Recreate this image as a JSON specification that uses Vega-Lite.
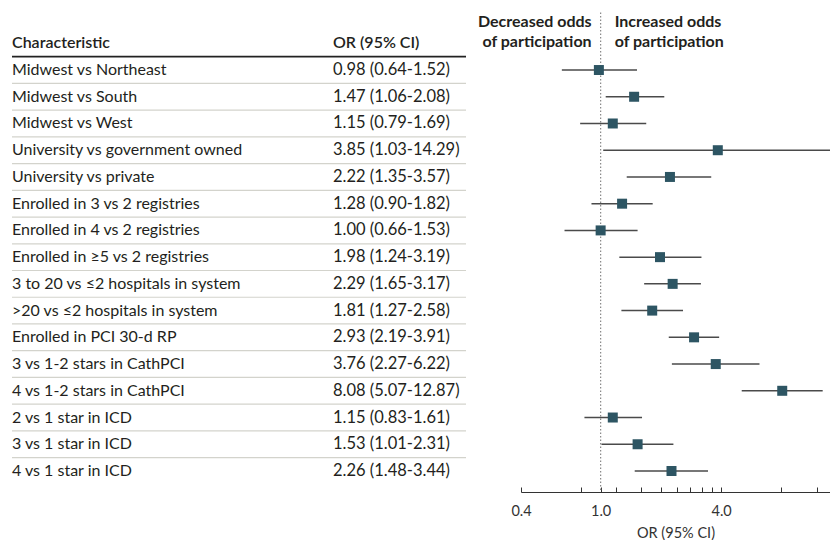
{
  "$schema": "https://vega.github.io/schema/vega-lite/v6.json",
  "width": 830,
  "height": 492,
  "autosize": {"type": "none"},
  "padding": {"left": 0, "top": 0, "right": 0, "bottom": 48},
  "background": "white",
  "config": {"view": {"stroke": null}, "font": "Lato", "text": {"font": "Lato"}},
  "datasets": {
    "rows": [
      {"row": 1, "label": "Midwest vs Northeast", "or": 0.98, "lo": 0.64, "hi": 1.52, "ci": "0.98 (0.64-1.52)"},
      {"row": 2, "label": "Midwest vs South", "or": 1.47, "lo": 1.06, "hi": 2.08, "ci": "1.47 (1.06-2.08)"},
      {"row": 3, "label": "Midwest vs West", "or": 1.15, "lo": 0.79, "hi": 1.69, "ci": "1.15 (0.79-1.69)"},
      {"row": 4, "label": "University vs government owned", "or": 3.85, "lo": 1.03, "hi": 14.29, "ci": "3.85 (1.03-14.29)"},
      {"row": 5, "label": "University vs private", "or": 2.22, "lo": 1.35, "hi": 3.57, "ci": "2.22 (1.35-3.57)"},
      {"row": 6, "label": "Enrolled in 3 vs 2 registries", "or": 1.28, "lo": 0.90, "hi": 1.82, "ci": "1.28 (0.90-1.82)"},
      {"row": 7, "label": "Enrolled in 4 vs 2 registries", "or": 1.00, "lo": 0.66, "hi": 1.53, "ci": "1.00 (0.66-1.53)"},
      {"row": 8, "label": "Enrolled in ≥5 vs 2 registries", "or": 1.98, "lo": 1.24, "hi": 3.19, "ci": "1.98 (1.24-3.19)"},
      {"row": 9, "label": "3 to 20 vs ≤2 hospitals in system", "or": 2.29, "lo": 1.65, "hi": 3.17, "ci": "2.29 (1.65-3.17)"},
      {"row": 10, "label": ">20 vs ≤2 hospitals in system", "or": 1.81, "lo": 1.27, "hi": 2.58, "ci": "1.81 (1.27-2.58)"},
      {"row": 11, "label": "Enrolled in PCI 30-d RP", "or": 2.93, "lo": 2.19, "hi": 3.91, "ci": "2.93 (2.19-3.91)"},
      {"row": 12, "label": "3 vs 1-2 stars in CathPCI", "or": 3.76, "lo": 2.27, "hi": 6.22, "ci": "3.76 (2.27-6.22)"},
      {"row": 13, "label": "4 vs 1-2 stars in CathPCI", "or": 8.08, "lo": 5.07, "hi": 12.87, "ci": "8.08 (5.07-12.87)"},
      {"row": 14, "label": "2 vs 1 star in ICD", "or": 1.15, "lo": 0.83, "hi": 1.61, "ci": "1.15 (0.83-1.61)"},
      {"row": 15, "label": "3 vs 1 star in ICD", "or": 1.53, "lo": 1.01, "hi": 2.31, "ci": "1.53 (1.01-2.31)"},
      {"row": 16, "label": "4 vs 1 star in ICD", "or": 2.26, "lo": 1.48, "hi": 3.44, "ci": "2.26 (1.48-3.44)"}
    ]
  },
  "data": {"name": "rows"},
  "encoding": {
    "y": {
      "field": "row",
      "type": "ordinal",
      "scale": {
        "type": "band",
        "domain": [-1, 0, 1, 2, 3, 4, 5, 6, 7, 8, 9, 10, 11, 12, 13, 14, 15, 16],
        "paddingInner": 0,
        "paddingOuter": 0.203,
        "align": 0.295
      },
      "axis": null
    }
  },
  "layer": [
    {
      "transform": [{"filter": "datum.row < 16"}],
      "mark": {"type": "rule", "color": "#d3d3cc", "strokeWidth": 1.2},
      "encoding": {
        "x": {"value": 12},
        "x2": {"value": 466},
        "y": {"field": "row", "type": "ordinal", "bandPosition": 1}
      }
    },
    {
      "data": {"values": [{}]},
      "mark": {"type": "rule", "color": "#222222", "strokeWidth": 1.6},
      "encoding": {
        "x": {"value": 12},
        "x2": {"value": 466},
        "y": {"datum": 0, "type": "ordinal", "bandPosition": 1}
      }
    },
    {
      "mark": {"type": "text", "align": "left", "baseline": "middle", "fontSize": 16, "color": "#231f20"},
      "encoding": {
        "x": {"value": 12},
        "text": {"field": "label"}
      }
    },
    {
      "mark": {"type": "text", "align": "left", "baseline": "middle", "fontSize": 16.5, "color": "#231f20"},
      "encoding": {
        "x": {"value": 333},
        "text": {"field": "ci"}
      }
    },
    {
      "data": {"values": [{}]},
      "mark": {"type": "text", "align": "left", "baseline": "middle", "fontSize": 16, "fontWeight": 600, "color": "#231f20", "text": "Characteristic"},
      "encoding": {
        "x": {"value": 12},
        "y": {"datum": 0, "type": "ordinal"}
      }
    },
    {
      "data": {"values": [{}]},
      "mark": {"type": "text", "align": "left", "baseline": "middle", "fontSize": 16, "fontWeight": 600, "color": "#231f20", "text": "OR (95% CI)"},
      "encoding": {
        "x": {"value": 333},
        "y": {"datum": 0, "type": "ordinal"}
      }
    },
    {
      "data": {"values": [{}]},
      "mark": {"type": "rule", "color": "#888888", "strokeWidth": 1.2, "strokeDash": [1.5, 2]},
      "encoding": {
        "x": {"datum": 1, "type": "quantitative"},
        "y": {"datum": -1, "type": "ordinal", "bandPosition": 0.35},
        "y2": {"value": "height"}
      }
    },
    {
      "data": {"values": [{}]},
      "mark": {"type": "text", "align": "right", "baseline": "middle", "fontSize": 16, "fontWeight": "bold", "color": "#231f20", "lineHeight": 20, "dx": -9, "text": ["Decreased odds", "of participation"]},
      "encoding": {
        "x": {"datum": 1, "type": "quantitative"},
        "y": {"datum": -1, "type": "ordinal", "bandPosition": 0.69}
      }
    },
    {
      "data": {"values": [{}]},
      "mark": {"type": "text", "align": "left", "baseline": "middle", "fontSize": 16, "fontWeight": "bold", "color": "#231f20", "lineHeight": 20, "dx": 14, "text": ["Increased odds", "of participation"]},
      "encoding": {
        "x": {"datum": 1, "type": "quantitative"},
        "y": {"datum": -1, "type": "ordinal", "bandPosition": 0.69}
      }
    },
    {
      "mark": {"type": "rule", "color": "#4a4a4a", "strokeWidth": 1.5},
      "encoding": {
        "x": {
          "field": "lo",
          "type": "quantitative",
          "scale": {"type": "log", "domain": [0.4, 14], "range": [521, 830], "nice": false},
          "axis": {
            "title": "OR (95% CI)",
            "values": [0.4, 0.8, 1, 1.2, 1.6, 2, 2.4, 2.8, 3.2, 3.6, 4, 8, 12],
            "labelExpr": "(datum.value == 0.4 || datum.value == 1 || datum.value == 4) ? format(datum.value, '.1f') : ''",
            "grid": false,
            "tickSize": -5,
            "labelPadding": 17,
            "labelFlush": false,
            "labelOverlap": false,
            "domainColor": "#333333",
            "tickColor": "#333333",
            "labelFont": "Lato",
            "labelFontSize": 14.5,
            "labelColor": "#333333",
            "titleFont": "Lato",
            "titleFontSize": 14.5,
            "titleFontWeight": "normal",
            "titleColor": "#333333",
            "titlePadding": 9
          }
        },
        "x2": {"field": "hi"}
      }
    },
    {
      "mark": {"type": "point", "shape": "square", "filled": true, "size": 100, "color": "#2d5563", "opacity": 1},
      "encoding": {
        "x": {"field": "or", "type": "quantitative"}
      }
    }
  ]
}
